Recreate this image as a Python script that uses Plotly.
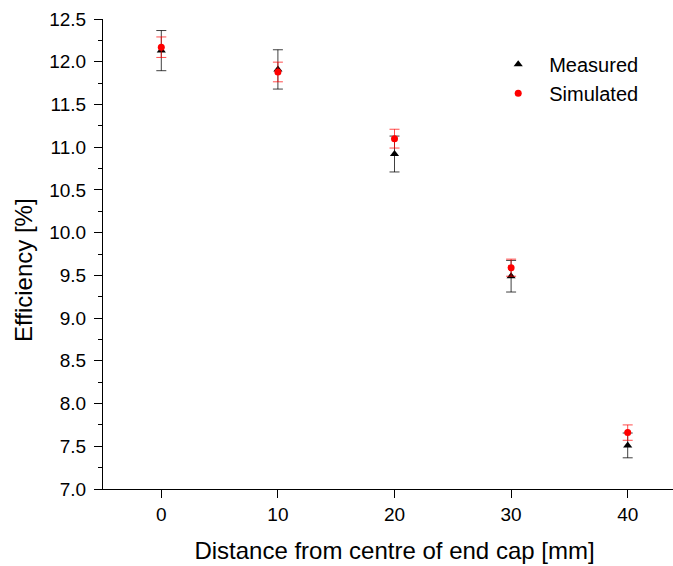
import plotly.graph_objects as go

distance = [0, 10, 20, 30, 40]
measured = [12.13, 11.91, 10.92, 9.49, 7.51]
measured_err = [0.235, 0.23, 0.21, 0.185, 0.145]
simulated = [12.17, 11.88, 11.10, 9.59, 7.66]
simulated_err = [0.12, 0.115, 0.11, 0.10, 0.09]

FONT = "Liberation Sans, Arial, sans-serif"

fig = go.Figure()
fig.add_trace(go.Scatter(
    x=distance, y=measured, mode="markers", name="Measured",
    marker=dict(symbol="triangle-up", size=8, color="black"),
    error_y=dict(type="data", array=measured_err, visible=True,
                 color="rgba(0,0,0,0.75)", thickness=1, width=5),
))
fig.add_trace(go.Scatter(
    x=distance, y=simulated, mode="markers", name="Simulated",
    marker=dict(symbol="circle", size=7, color="red"),
    error_y=dict(type="data", array=simulated_err, visible=True,
                 color="rgba(255,0,0,0.7)", thickness=1, width=5),
))

# the plot area runs past the right edge of the window, as in the reference
fig.update_layout(
    width=690, height=566,
    margin=dict(l=103, r=4, t=19, b=77),
    paper_bgcolor="white", plot_bgcolor="white",
    font=dict(family=FONT, color="black", size=19),
    legend=dict(x=0.659, y=0.945, xanchor="left", yanchor="top",
                font=dict(size=20, family=FONT), bgcolor="rgba(0,0,0,0)",
                itemwidth=52, tracegroupgap=0),
    showlegend=True,
    annotations=[dict(text="Efficiency [%]", textangle=-90, xref="paper", yref="paper",
                      x=-0.1355, y=0.466, xanchor="center", yanchor="middle",
                      showarrow=False, font=dict(size=24, family=FONT, color="black"))],
)
fig.update_xaxes(
    range=[-5, 45], tickvals=[0, 10, 20, 30, 40],
    showline=True, linecolor="black", linewidth=1, mirror=False,
    ticks="outside", ticklen=8, tickcolor="black", tickwidth=1,
    showgrid=False, zeroline=False,
    tickfont=dict(size=19, family=FONT),
    title=dict(text="Distance from centre of end cap [mm]",
               font=dict(size=24, family=FONT), standoff=18),
)
fig.update_yaxes(
    range=[7.0, 12.5], tickvals=[7.0, 7.5, 8.0, 8.5, 9.0, 9.5, 10.0, 10.5, 11.0, 11.5, 12.0, 12.5],
    tickformat=".1f",
    showline=True, linecolor="black", linewidth=1, mirror=False,
    ticks="outside", ticklen=8, tickcolor="black", tickwidth=1,
    ticklabelstandoff=4,
    minor=dict(tickvals=[7.25, 7.75, 8.25, 8.75, 9.25, 9.75, 10.25, 10.75, 11.25, 11.75, 12.25],
               ticks="outside", ticklen=4, tickcolor="black", tickwidth=1),
    showgrid=False, zeroline=False,
    tickfont=dict(size=19, family=FONT),
)

fig.write_html("out.html", config={"displayModeBar": False},
               post_script="document.body.style.margin='0px';document.body.style.overflow='hidden';")
